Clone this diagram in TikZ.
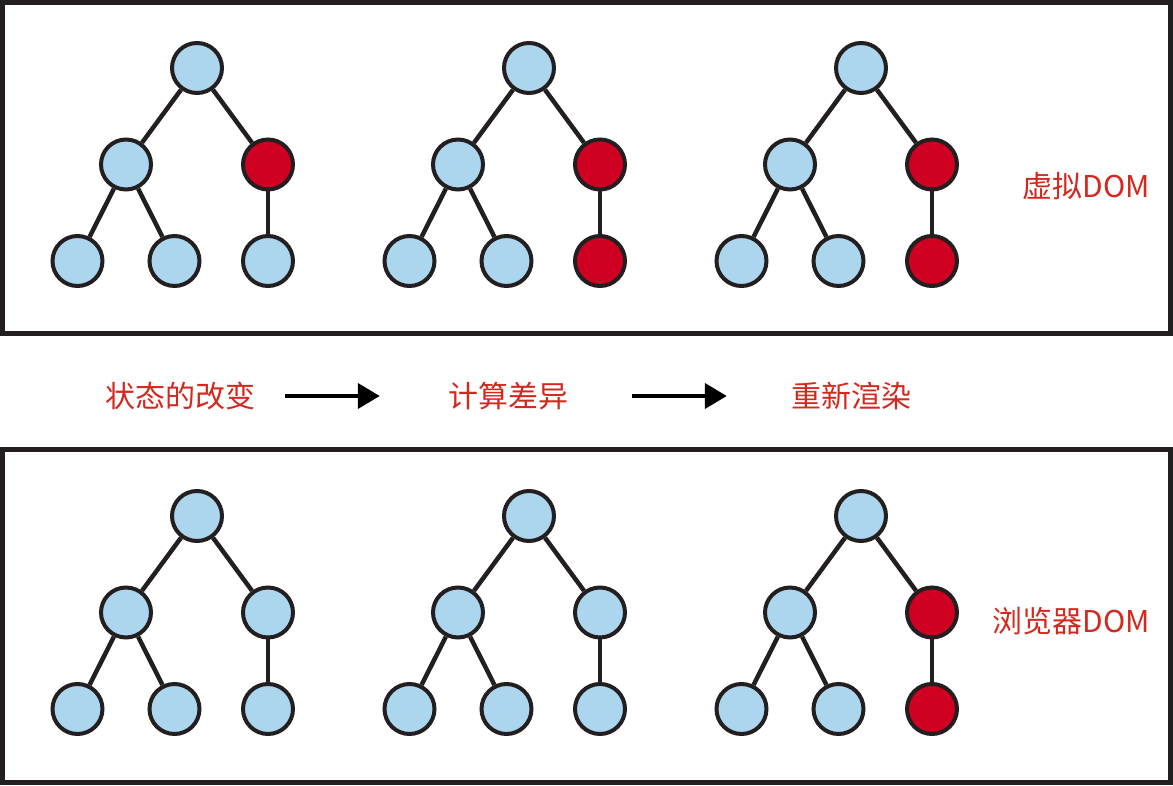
\documentclass[tikz,border=0pt]{standalone}
\usepackage{fontspec}
\newfontfamily\cjk{Noto Sans CJK SC}
\usetikzlibrary{positioning,arrows.meta}

\definecolor{nodeblue}{RGB}{171,214,238}
\definecolor{nodered}{RGB}{208,0,35}
\definecolor{inkblack}{RGB}{35,31,32}
\definecolor{labelred}{RGB}{212,40,30}

\tikzset{
  dom/.style={circle, draw=inkblack, line width=4pt, minimum size=50pt, inner sep=0pt, on grid},
  link/.style={draw=inkblack, line width=4.5pt},
  label text/.style={text=labelred, inner sep=0pt, font=\cjk\fontsize{30}{32}\selectfont},
  flow/.style={line width=4pt, -{Triangle[length=22pt,width=25pt]}},
}

\begin{document}
\begin{tikzpicture}[x=1pt,y=1pt]
  \def\levelsep{96.5pt}
  \def\xsepone{71pt}
  \def\xseptwo{48.5pt}
  \draw[use as bounding box, draw=none] (0,0) rectangle (1173,785);
  % Frames
  \draw[inkblack, line width=5pt] (2.5,451) rectangle (1170.5,782.5);
  \draw[inkblack, line width=5pt] (2.5,2.5) rectangle (1170.5,335);
  % Trees: name / x / y / right child / its leaf
  \foreach \t/\x/\y/\cr/\cl in {v1/197/717/nodered/nodeblue, v2/529/717/nodered/nodered,
      v3/861/717/nodered/nodered, b1/197/269/nodeblue/nodeblue,
      b2/529/269/nodeblue/nodeblue, b3/861/269/nodered/nodered} {
    \node[dom, fill=nodeblue] (\t root) at (\x,\y) {};
    \node[dom, fill=nodeblue, below left=\levelsep and \xsepone of \t root] (\t left) {};
    \node[dom, fill=\cr, below right=\levelsep and \xsepone of \t root] (\t right) {};
    \node[dom, fill=nodeblue, below left=\levelsep and \xseptwo of \t left] (\t left left) {};
    \node[dom, fill=nodeblue, below right=\levelsep and \xseptwo of \t left] (\t left right) {};
    \node[dom, fill=\cl, below=\levelsep of \t right] (\t right leaf) {};
    \draw[link] (\t root) -- (\t left);
    \draw[link] (\t root) -- (\t right);
    \draw[link] (\t left) -- (\t left left);
    \draw[link] (\t left) -- (\t left right);
    \draw[link] (\t right) -- (\t right leaf);
  }
  % Side labels
  \node[label text] (virtual dom) at (1086,599) {虚拟DOM};
  \node[label text] (browser dom) at (1071,164) {浏览器DOM};
  % Steps
  \node[label text] (state change) at (180,389) {状态的改变};
  \node[label text] (diff) at (508,389) {计算差异};
  \node[label text] (rerender) at (851,389) {重新渲染};
  \draw[flow] ([xshift=30pt]state change.east) -- ([xshift=-68pt]diff.west);
  \draw[flow] ([xshift=64pt]diff.east) -- ([xshift=-64pt]rerender.west);
\end{tikzpicture}
\end{document}
